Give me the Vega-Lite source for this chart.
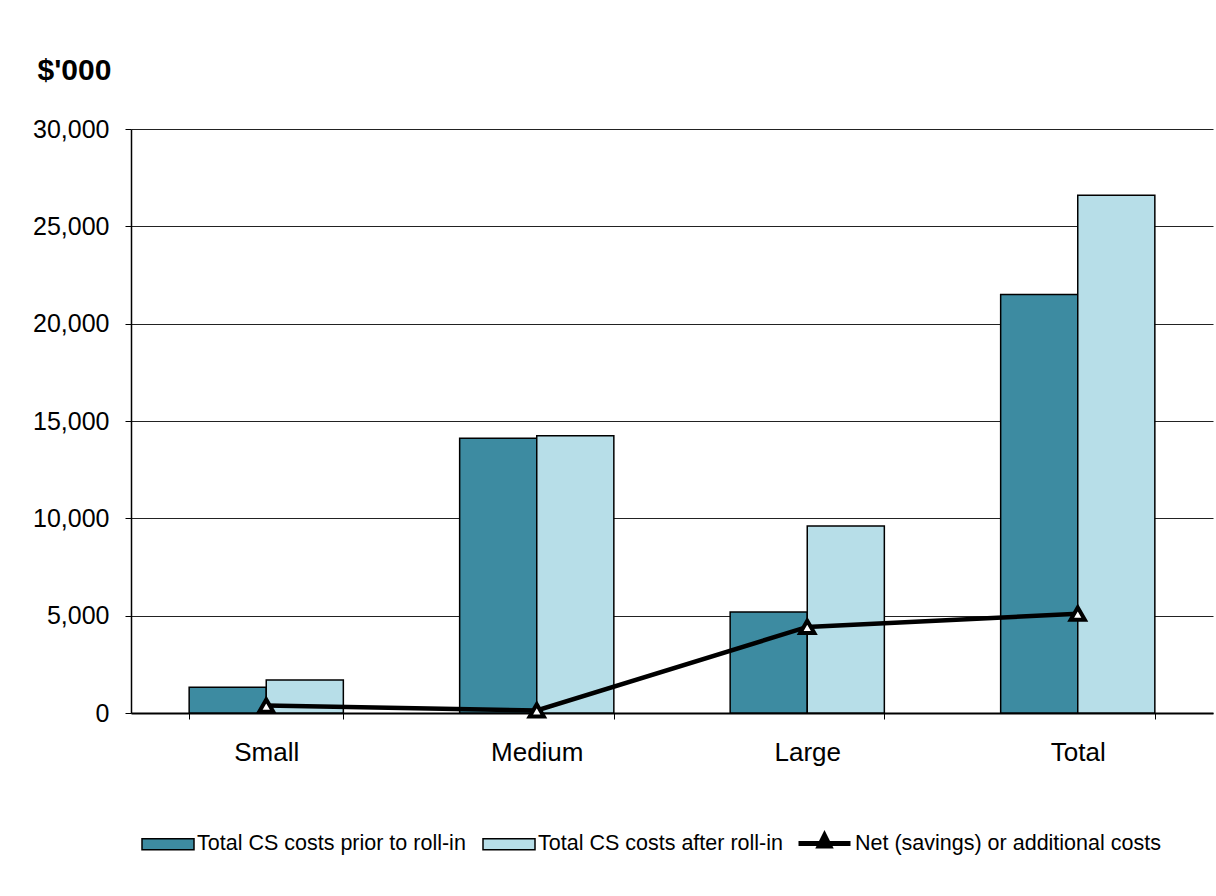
{
  "$schema": "https://vega.github.io/schema/vega-lite/v6.json",
  "width": 1082,
  "height": 584,
  "autosize": {"type": "none"},
  "padding": {"left": 131, "top": 129, "right": 3, "bottom": 183},
  "background": "white",
  "config": {
    "font": "Liberation Sans",
    "view": {"stroke": null}
  },
  "data": {
    "values": [
      {"size": "Small", "series": "Total CS costs prior to roll-in", "value": 1320},
      {"size": "Small", "series": "Total CS costs after roll-in", "value": 1700},
      {"size": "Small", "series": "Net (savings) or additional costs", "value": 380},
      {"size": "Medium", "series": "Total CS costs prior to roll-in", "value": 14110},
      {"size": "Medium", "series": "Total CS costs after roll-in", "value": 14240},
      {"size": "Medium", "series": "Net (savings) or additional costs", "value": 130},
      {"size": "Large", "series": "Total CS costs prior to roll-in", "value": 5190},
      {"size": "Large", "series": "Total CS costs after roll-in", "value": 9610},
      {"size": "Large", "series": "Net (savings) or additional costs", "value": 4420},
      {"size": "Total", "series": "Total CS costs prior to roll-in", "value": 21500},
      {"size": "Total", "series": "Total CS costs after roll-in", "value": 26600},
      {"size": "Total", "series": "Net (savings) or additional costs", "value": 5100}
    ]
  },
  "encoding": {
    "x": {
      "field": "size",
      "type": "nominal",
      "sort": ["Small", "Medium", "Large", "Total"],
      "scale": {"paddingInner": 0.43, "paddingOuter": 0.215},
      "axis": {
        "title": null,
        "labelAngle": 0,
        "labelFontSize": 26,
        "labelColor": "black",
        "labelPadding": 20,
        "tickBand": "extent",
        "tickExtra": false,
        "tickSize": 6,
        "tickColor": "black",
        "tickWidth": 1,
        "domainColor": "black",
        "domainWidth": 2,
        "grid": false
      }
    },
    "y": {
      "field": "value",
      "type": "quantitative",
      "scale": {"domain": [0, 30000], "nice": false},
      "axis": {
        "title": "$'000",
        "titleAngle": 0,
        "titleAlign": "left",
        "titleBaseline": "alphabetic",
        "titleX": -94,
        "titleY": -50,
        "titleFontSize": 30,
        "titleFontWeight": "bold",
        "titleColor": "black",
        "values": [0, 5000, 10000, 15000, 20000, 25000, 30000],
        "format": ",.0f",
        "labelFontSize": 25,
        "labelColor": "black",
        "labelPadding": 16,
        "tickSize": 6,
        "tickColor": "black",
        "tickWidth": 1,
        "domainColor": "black",
        "domainWidth": 1.5,
        "grid": true,
        "gridColor": "#222222",
        "gridWidth": 1.2
      }
    }
  },
  "layer": [
    {
      "transform": [{"filter": "datum.series !== 'Net (savings) or additional costs'"}],
      "mark": {"type": "bar", "stroke": "black", "strokeWidth": 1.5},
      "encoding": {
        "xOffset": {
          "field": "series",
          "sort": ["Total CS costs prior to roll-in", "Total CS costs after roll-in"],
          "scale": {"paddingInner": 0, "paddingOuter": 0}
        },
        "fill": {
          "field": "series",
          "type": "nominal",
          "sort": ["Total CS costs prior to roll-in", "Total CS costs after roll-in"],
          "scale": {
            "domain": ["Total CS costs prior to roll-in", "Total CS costs after roll-in"],
            "range": ["#3D8BA1", "#B7DEE8"]
          },
          "legend": {
            "title": null,
            "orient": "none",
            "legendX": 10,
            "legendY": 688,
            "direction": "horizontal",
            "columns": 2,
            "columnPadding": 14,
            "rowPadding": 0,
            "padding": 0,
            "labelOffset": 2,
            "labelFontSize": 21.5,
            "labelColor": "black",
            "labelLimit": 0,
            "symbolSize": 2704,
            "symbolType": "M-1,-0.21L1,-0.21L1,0.21L-1,0.21Z",
            "symbolStrokeColor": "black",
            "symbolStrokeWidth": 1.5,
            "symbolOpacity": 1
          }
        }
      }
    },
    {
      "transform": [{"filter": "datum.series === 'Net (savings) or additional costs'"}],
      "mark": {"type": "line", "strokeWidth": 4.5},
      "encoding": {
        "stroke": {
          "field": "series",
          "type": "nominal",
          "scale": {
            "domain": ["Net (savings) or additional costs"],
            "range": ["#000000"]
          },
          "legend": {
            "title": null,
            "orient": "none",
            "legendX": 665,
            "legendY": 686,
            "direction": "horizontal",
            "padding": 0,
            "labelOffset": 2,
            "labelFontSize": 21.5,
            "labelColor": "black",
            "labelLimit": 0,
            "symbolSize": 2704,
            "symbolType": "M-1,0L1,0M0,-0.3L0.2,0.1L-0.2,0.1Z",
            "symbolStrokeColor": "black",
            "symbolFillColor": "black",
            "symbolStrokeWidth": 5,
            "symbolOpacity": 1
          }
        }
      }
    },
    {
      "transform": [{"filter": "datum.series === 'Net (savings) or additional costs'"}],
      "mark": {
        "type": "point",
        "shape": "triangle-up",
        "filled": true,
        "fill": "white",
        "stroke": "black",
        "strokeWidth": 4,
        "size": 200,
        "opacity": 1
      },
      "encoding": {}
    }
  ]
}
